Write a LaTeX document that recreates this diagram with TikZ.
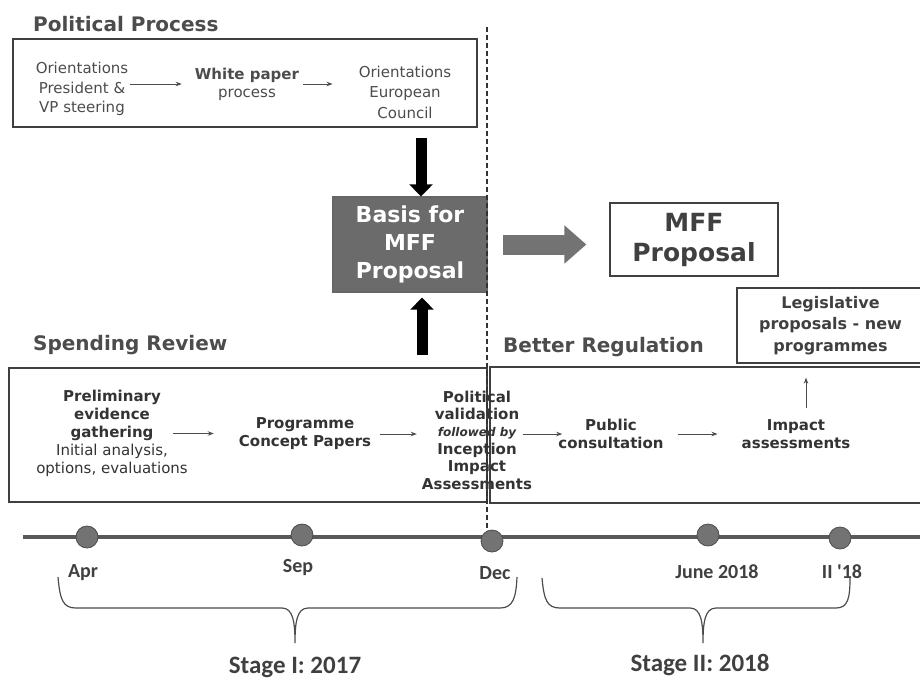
\documentclass[tikz,border=0pt]{standalone}
\usepackage{fontspec}
\setmainfont{DejaVu Sans}
\newfontfamily\datefont{Carlito}
\usepackage{tikz}
\usetikzlibrary{arrows.meta}
\usetikzlibrary{calc}
\newcommand{\ink}{black!80}

\begin{document}
\begin{tikzpicture}[x=1pt,y=-1pt,
  box/.style={draw=black!75,line width=1.3pt,inner sep=0pt},
  heading/.style={anchor=west,inner sep=0pt,font=\bfseries\fontsize{20}{24}\selectfont,text=black!70},
  txt/.style={align=center,inner sep=0pt,font=\fontsize{15}{18}\selectfont,text=\ink},
  bold/.style={txt,font=\bfseries\fontsize{15}{18}\selectfont},
  flow/.style={draw=black!70,line width=0.9pt,-{Stealth[length=6pt,width=4.5pt]}},
  fat/.style={line width=11pt,-{Triangle[length=12pt,width=23pt]}},
  dot/.style={circle,fill=black!55,draw=black!70,line width=0.8pt,minimum size=22pt,inner sep=0pt},
  date/.style={inner sep=0pt,font=\datefont\bfseries\fontsize{20}{24}\selectfont,text=black!75},
  stage/.style={inner sep=0pt,font=\datefont\bfseries\fontsize{25}{30}\selectfont,text=black!75},
  brace/.style={draw=black!70,line width=1.2pt}]
\useasboundingbox (0,0) rectangle (920,678);

% political process
\node[heading] (polhead) at (33,24) {Political Process};
\node[box,minimum width=464pt,minimum height=88pt] (pol) at (245,83) {};
\node[txt,text=black!70,font=\fontsize{15}{19.5}\selectfont] (orient) at (82,89) {Orientations\\President \&\\VP steering};
\node[txt,text=black!70] (white) at (247,84) {\textbf{White paper}\\process};
\node[txt,text=black!70,font=\fontsize{15}{20.5}\selectfont] (council) at (405,92) {Orientations\\European\\Council};
\draw[flow,shorten <=2pt,shorten >=13pt] (orient.east |- white) -- (white.west);
\draw[flow,shorten <=4pt,shorten >=26pt] (white.east) -- (white.east -| council.west);

% basis and proposal
\node[box,draw=black!60,fill=black!58,minimum width=154pt,minimum height=95pt,align=center,text=white,
  font=\bfseries\fontsize{22}{28}\selectfont] (basis) at (410,244.5) {Basis for\\MFF\\Proposal};
\node[box,minimum width=168pt,minimum height=73pt,align=center,text=black!75,
  font=\bfseries\fontsize{25}{30}\selectfont] (mff) at (694,239.5) {MFF\\Proposal};
\coordinate (down) at (421,138);
\coordinate (up) at (422,355);
\draw[fat] (down) -- (down |- basis.north);
\draw[fat,shorten >=5pt] (up) -- (up |- basis.south);
\draw[line width=20pt,draw=black!55,-{Triangle[length=22pt,width=37pt]},shorten <=15pt,shorten >=23pt]
  (basis.east) -- (basis.east -| mff.west);

% spending review / better regulation
\node[heading] (spendhead) at (33,345) {Spending Review};
\node[box,minimum width=478pt,minimum height=134pt] (spend) at (248,435) {};
\node[heading] (betterhead) at (503,347) {Better Regulation};
\node[box,minimum width=435pt,minimum height=136pt] (better) at (707.5,435) {};
\node[box,minimum width=187pt,minimum height=75pt,align=center,text=black!75,
  font=\bfseries\fontsize{16}{21.5}\selectfont] (legis) at (830.5,325.5) {Legislative\\proposals - new\\programmes};

\node[txt] (prelim) at (112,433.5) {\textbf{Preliminary}\\\textbf{evidence}\\\textbf{gathering}\\Initial analysis,\\options, evaluations};
\node[bold] (prog) at (305,434) {Programme\\Concept Papers};
\node[bold,font=\bfseries\fontsize{15}{17.4}\selectfont] (valid) at (477,440)
  {Political\\validation\\{\fontsize{12}{17.4}\selectfont\itshape followed by}\\Inception\\Impact\\Assessments};
\node[bold] (public) at (611,434) {Public\\consultation};
\node[bold] (impact) at (796,434) {Impact\\assessments};
\draw[flow,shorten <=-15pt,shorten >=25pt] (prelim.east) -- (prelim.east -| prog.west);
\draw[flow,shorten <=9pt,shorten >=5pt] (prog.east) -- (prog.east -| valid.west);
\draw[flow,shorten <=-9pt,shorten >=-4pt] (valid.east |- public) -- (public.west);
\draw[flow,shorten <=14pt,shorten >=24pt] (public.east) -- (impact.west);
\coordinate (legup) at (806,408);
\draw[flow,shorten >=14pt] (legup) -- (legup |- legis.south);

% timeline
\coordinate (tl0) at (23,537);
\coordinate (tl1) at (925,537);
\draw[line width=3.5pt,black!65] (tl0) -- (tl1);
\node[dot] (apr) at (87,537) {};
\node[dot] (sep) at (302,535) {};
\node[dot] (dec) at (492,541) {};
\node[dot] (jun) at (708,535) {};
\node[dot] (iiq) at (840,538) {};
\coordinate (vtop) at (487,27);
\draw[black!80,line width=1.4pt,dash pattern=on 5pt off 3pt] (vtop) -- (vtop |- dec.north);

\node[date] (aprlab) at (83,573) {Apr};
\node[date] (seplab) at (298,568) {Sep};
\node[date] (declab) at (495,573) {Dec};
\node[date] (junlab) at (717,572) {June 2018};
\node[date] (iiqlab) at (842,572) {II '18};

\draw[brace] (58,577) .. controls (60,600) and (63,608) .. (76,608) -- (282,608)
  .. controls (293,608) and (295,622) .. (295,643) .. controls (295,622) and (297,608) .. (308,608)
  -- (500,608) .. controls (513,608) and (516,598) .. (517,577);
\draw[brace] (542,578) .. controls (544,600) and (547,608) .. (560,608) -- (690,608)
  .. controls (701,608) and (703,622) .. (703,643) .. controls (703,622) and (705,608) .. (716,608)
  -- (836,608) .. controls (848,608) and (850,598) .. (850,578);
\node[stage] (st1) at (295,667) {Stage I: 2017};
\node[stage] (st2) at (700,665) {Stage II: 2018};
\end{tikzpicture}
\end{document}
